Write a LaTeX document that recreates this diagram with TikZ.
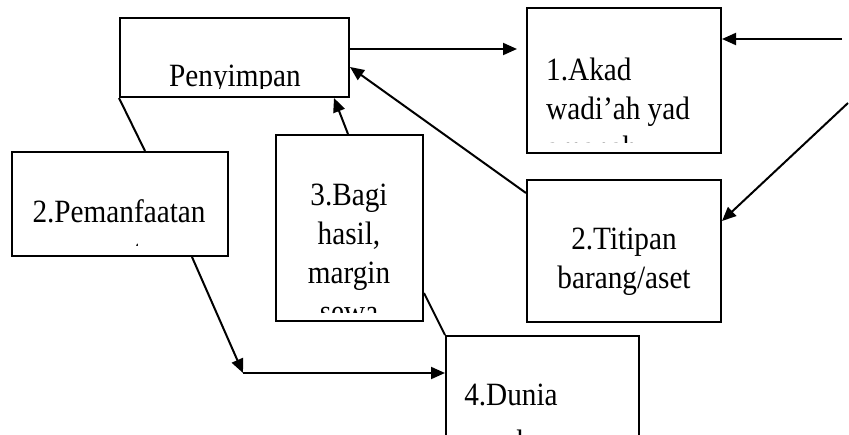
\documentclass[tikz,border=0pt]{standalone}
\usepackage{fontspec}
\setmainfont{Liberation Serif}
\newfontfamily\lblfont{Liberation Serif}[FakeStretch=0.9]
\usetikzlibrary{arrows.meta}

\tikzset{
  box/.style={draw, line width=2pt, inner sep=0pt},
  arr/.style={-{Triangle[length=14pt,width=12pt]}, line width=2pt},
  lbl/.style={font=\lblfont\fontsize{32.5}{39}\selectfont, inner sep=0pt, anchor=base},
}

\begin{document}
\begin{tikzpicture}[x=1pt,y=-1pt]
\clip (0,0) rectangle (849,434); %page size of the picture

% the boxes
\node[box, minimum width=229pt, minimum height=79pt] (pen) at (234.5,57.5) {};
\node[box, minimum width=194pt, minimum height=145pt] (akad) at (624,80.5) {};
\node[box, minimum width=194pt, minimum height=142pt] (titip) at (624,251) {};
\node[box, minimum width=216pt, minimum height=104pt] (manfaat) at (120,204) {};
\node[box, minimum width=147pt, minimum height=186pt] (bagi) at (349.5,228) {};
\node[box, minimum width=193pt, minimum height=134pt] (dunia) at (542.5,403) {};

% texts, cut off at the bottom like in the original (base = last line)
\begin{scope}
  \clip (121,19) rectangle (348,88);
  \node[lbl] (pentxt) at (235,86) {Penyimpan};
\end{scope}
\begin{scope}
  \clip (528,9) rectangle (720,142);
  \node[lbl, align=left, anchor=base west] (akadtxt) at (546,158) {1.Akad\\wadi’ah yad\\amanah};
\end{scope}
\node[lbl, align=center] (tititxt) at (624,288) {2.Titipan\\barang/aset};
\begin{scope}
  \clip (13,153) rectangle (227,245);
  \node[lbl, align=center] (manftxt) at (119,262) {2.Pemanfaatan\\[1pt]aset};
\end{scope}
\begin{scope}
  \clip (277,136) rectangle (422,312);
  \node[lbl, align=center] (bagitxt) at (349,322) {3.Bagi\\hasil,\\margin\\sewa};
\end{scope}
\node[lbl, align=center] (duntxt) at (511,452) {4.Dunia\\[8pt]usaha};

% free ends on the right
\coordinate (r1) at (842,39);
\coordinate (r2) at (848,103);
\coordinate (bend) at (243,373);

% connectors
\draw[arr, shorten >=9pt] ([yshift=-32pt]pen.north east) -- ([yshift=-32pt]pen.north east -| akad.west);
\draw[arr] (r1) -- (r1 -| akad.east);
\draw[arr] (r2) -- ([yshift=-42pt]titip.north east);
\draw[arr] ([yshift=-14pt]titip.north west) -- ([yshift=-50pt]pen.north east);
\draw[arr] ([xshift=-1.5pt]bagi.north) -- ([xshift=-16pt]pen.south east);
\draw[line width=2pt] (pen.south west) -- ([xshift=134pt]manfaat.north west);
\draw[arr] ([xshift=181pt]manfaat.south west) -- (bend);
\draw[arr] (bend) -- (bend -| dunia.west);
\draw[line width=2pt] ([yshift=29pt]bagi.south east) -- (dunia.north west);
\end{tikzpicture}
\end{document}
